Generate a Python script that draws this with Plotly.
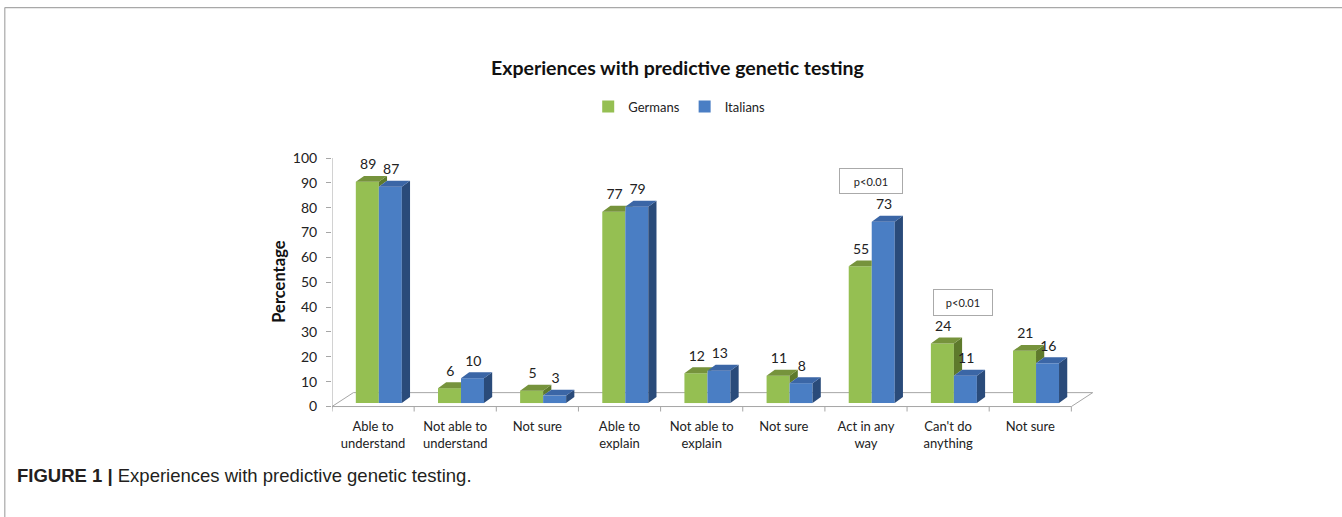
import plotly.graph_objects as go

# ---------------- data ----------------
categories = ["Able to<br>understand", "Not able to<br>understand", "Not sure",
              "Able to<br>explain", "Not able to<br>explain", "Not sure",
              "Act in any<br>way", "Can't do<br>anything", "Not sure"]
germans = [89, 6, 5, 77, 12, 11, 55, 24, 21]
italians = [87, 10, 3, 79, 13, 8, 73, 11, 16]
series_names = ["Germans", "Italians"]
y_ticks = list(range(0, 101, 10))
sig_text = "p<0.01"

# ---------------- geometry / style ----------------
W, H = 1342, 517
X_LEFT_PX, PX_PER_X = 332.0, 82.1      # pixel of x=-0.5, px per category
Y_ZERO_PX, PX_PER_Y = 406.7, 2.484     # pixel of y=0, px per unit
X_RANGE = [-0.5, 8.8]
Y_RANGE = [-3, 100]
L = X_LEFT_PX
R = W - (X_LEFT_PX + (X_RANGE[1] - X_RANGE[0]) * PX_PER_X)
T = Y_ZERO_PX - Y_RANGE[1] * PX_PER_Y
B = H - (Y_ZERO_PX - Y_RANGE[0] * PX_PER_Y)
PW = W - L - R
PH = H - T - B


def px_x(p):
    return (p - L) / PW


def px_y(p):
    return (H - B - p) / PH


BASE = 1.4      # bars stand slightly behind the front edge of the floor
BW = 0.28
G_OFF, B_OFF = -0.07, 0.21
DX, DY = 0.1, 2.4          # depth of the bars
FDX, FDY = 0.26, 5.6       # depth of the floor

G_FRONT, G_TOP, G_SIDE = "#95BF52", "#76933C", "#5E7A2C"
B_FRONT, B_TOP, B_SIDE = "#4A7EC4", "#3B66A6", "#2A4B7A"
AXIS_C = "#A6A6A6"
TXT = "#222222"
FONT = "Lato"

fig = go.Figure()

# front faces
fig.add_trace(go.Bar(x=[i + G_OFF for i in range(len(categories))], y=germans, base=BASE,
                     width=BW, marker=dict(color=G_FRONT, line=dict(width=0)),
                     name=series_names[0], hoverinfo="skip"))
fig.add_trace(go.Bar(x=[i + B_OFF for i in range(len(categories))], y=italians, base=BASE,
                     width=BW, marker=dict(color=B_FRONT, line=dict(width=0)),
                     name=series_names[1], hoverinfo="skip"))


def poly_trace(polys, color):
    xs, ys = [], []
    for p in polys:
        for (a, b) in p:
            xs.append(a)
            ys.append(b)
        xs.append(p[0][0])
        ys.append(p[0][1])
        xs.append(None)
        ys.append(None)
    return go.Scatter(x=xs, y=ys, mode="lines", fill="toself", fillcolor=color,
                      line=dict(width=0, color=color), showlegend=False, hoverinfo="skip")


g_tops, g_sides, b_tops, b_sides = [], [], [], []
for i, (g, b) in enumerate(zip(germans, italians)):
    x0g = i + G_OFF - BW / 2
    x1g = i + G_OFF + BW / 2
    x0b = i + B_OFF - BW / 2
    x1b = i + B_OFF + BW / 2
    tg, tb = BASE + g, BASE + b
    # green top face (partly hidden by the blue front when blue is taller)
    if tb <= tg:
        g_tops.append([(x0g, tg), (x0g + DX, tg + DY), (x1g + DX, tg + DY), (x1g, tg)])
    elif tb >= tg + DY:
        g_tops.append([(x0g, tg), (x0g + DX, tg + DY), (x1g, tg + DY), (x1g, tg)])
    else:
        f = (tb - tg) / DY
        g_tops.append([(x0g, tg), (x0g + DX, tg + DY), (x1g + DX, tg + DY),
                       (x1g + DX * f, tb), (x1g, tb), (x1g, tg)])
    # green side face visible above the blue bar
    if tg > tb:
        g_sides.append([(x1g, tb), (x1g + DX, tb + DY), (x1g + DX, tg + DY), (x1g, tg)])
    b_tops.append([(x0b, tb), (x0b + DX, tb + DY), (x1b + DX, tb + DY), (x1b, tb)])
    b_sides.append([(x1b, BASE), (x1b + DX, BASE + DY), (x1b + DX, tb + DY), (x1b, tb)])

fig.add_trace(poly_trace(g_sides, G_SIDE))
fig.add_trace(poly_trace(g_tops, G_TOP))
fig.add_trace(poly_trace(b_sides, B_SIDE))
fig.add_trace(poly_trace(b_tops, B_TOP))

# value labels
n = len(categories)
fig.add_trace(go.Scatter(x=[i + G_OFF + 0.01 for i in range(n)],
                         y=[v + BASE + DY + 4.0 for v in germans],
                         text=[str(v) for v in germans], mode="text",
                         textfont=dict(family=FONT, size=14, color=TXT),
                         showlegend=False, hoverinfo="skip", cliponaxis=False))
fig.add_trace(go.Scatter(x=[i + B_OFF + 0.01 for i in range(n)],
                         y=[v + BASE + DY + 4.0 for v in italians],
                         text=[str(v) for v in italians], mode="text",
                         textfont=dict(family=FONT, size=14, color=TXT),
                         showlegend=False, hoverinfo="skip", cliponaxis=False))

shapes = []
# floor (behind the bars)
xa, xb = -0.5, n - 0.5
for (x0, y0, x1, y1) in [(xa + FDX, FDY, xb + FDX, FDY), (xa, 0, xa + FDX, FDY),
                         (xb, 0, xb + FDX, FDY)]:
    shapes.append(dict(type="line", xref="x", yref="y", x0=x0, y0=y0, x1=x1, y1=y1,
                       line=dict(color=AXIS_C, width=1), layer="below"))
# front axis line and category ticks
shapes.append(dict(type="line", xref="x", yref="y", x0=xa, y0=0, x1=xb, y1=0,
                   line=dict(color=AXIS_C, width=1)))
for k in range(n + 1):
    shapes.append(dict(type="line", xref="x", yref="y", x0=xa + k, y0=0, x1=xa + k, y1=-2,
                       line=dict(color=AXIS_C, width=1)))
# y axis line
shapes.append(dict(type="line", xref="x", yref="y", x0=xa, y0=-0.8, x1=xa, y1=100,
                   line=dict(color=AXIS_C, width=1)))
# figure frame
shapes.append(dict(type="line", xref="paper", yref="paper", x0=px_x(5), y0=px_y(8),
                   x1=px_x(W + 2), y1=px_y(8), line=dict(color="#A8A8A8", width=1.2)))
shapes.append(dict(type="line", xref="paper", yref="paper", x0=px_x(5), y0=px_y(8),
                   x1=px_x(5), y1=px_y(H + 2), line=dict(color="#A8A8A8", width=1.2)))

annotations = [
    dict(text="<b>Experiences with predictive genetic testing</b>", xref="paper", yref="paper",
         x=px_x(677), y=px_y(68), showarrow=False, xanchor="center", yanchor="middle",
         font=dict(family=FONT, size=19.5, color="#111111")),
    dict(text="<b>Percentage</b>", xref="paper", yref="paper", x=px_x(279), y=px_y(282),
         textangle=-90, showarrow=False, xanchor="center", yanchor="middle",
         font=dict(family=FONT, size=16.5, color="#111111")),
    dict(text=sig_text, xref="x", yref="y", x=6.06, y=90.9, showarrow=False,
         width=60, height=22, borderpad=1, bordercolor="#AAAAAA", borderwidth=1,
         bgcolor="white", font=dict(family=FONT, size=11, color=TXT)),
    dict(text=sig_text, xref="x", yref="y", x=7.186, y=41.9, showarrow=False,
         width=56, height=23, borderpad=1, bordercolor="#AAAAAA", borderwidth=1,
         bgcolor="white", font=dict(family=FONT, size=11, color=TXT)),
    dict(text="<b>FIGURE 1 |</b> Experiences with predictive genetic testing.",
         xref="paper", yref="paper", x=px_x(15), y=px_y(476), showarrow=False,
         xanchor="left", yanchor="middle",
         font=dict(family="Liberation Sans", size=18.5, color="#231F20")),
]

fig.update_layout(
    width=W, height=H,
    margin=dict(l=L, r=R, t=T, b=B, pad=0, autoexpand=False),
    paper_bgcolor="white", plot_bgcolor="white",
    barmode="overlay",
    showlegend=True,
    legend=dict(orientation="h", x=px_x(679), y=px_y(107), xanchor="center", yanchor="middle",
                font=dict(family=FONT, size=13, color=TXT), itemwidth=30,
                bgcolor="rgba(0,0,0,0)"),
    xaxis=dict(range=X_RANGE, tickmode="array", tickvals=list(range(n)), ticktext=categories,
               showgrid=False, zeroline=False, showline=False, ticks="",
               ticklabelstandoff=3,
               tickfont=dict(family=FONT, size=13, color=TXT), fixedrange=True),
    yaxis=dict(range=Y_RANGE, tickmode="array", tickvals=y_ticks,
               showgrid=False, zeroline=False, showline=False, ticks="outside", ticklen=5,
               tickcolor=AXIS_C, ticklabelstandoff=6,
               tickfont=dict(family=FONT, size=14, color=TXT), fixedrange=True),
    shapes=shapes, annotations=annotations,
)

fig.write_html("out.html", config={"displayModeBar": False},
               post_script="document.body.style.margin='0';")
